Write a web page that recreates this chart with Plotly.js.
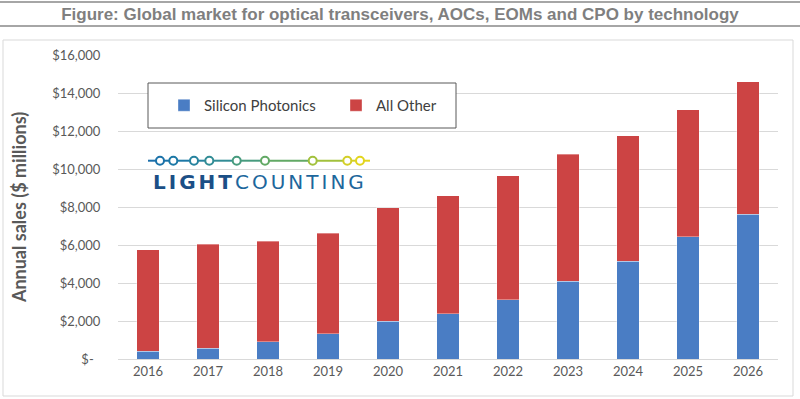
<!DOCTYPE html>
<html>
<head>
<meta charset="utf-8">
<script src="https://cdn.plot.ly/plotly-3.0.1.min.js"></script>
<style>html,body{margin:0;padding:0;background:#fff}#chart{width:800px;height:399px}</style>
</head>
<body>
<div id="chart"></div>
<script>
// ---- data ----
const years = ['2016','2017','2018','2019','2020','2021','2022','2023','2024','2025','2026'];
const siliconPhotonics = [410, 570, 920, 1330, 1980, 2390, 3120, 4090, 5140, 6430, 7610];
const totalSales = [5760, 6040, 6200, 6610, 7950, 8590, 9650, 10780, 11760, 13110, 14580];
const allOther = totalSales.map((t, i) => t - siliconPhotonics[i]);
const yTickVals = [0, 2000, 4000, 6000, 8000, 10000, 12000, 14000, 16000];
const yTickText = ['$-\u00a0\u00a0', '$2,000', '$4,000', '$6,000', '$8,000', '$10,000', '$12,000', '$14,000', '$16,000'];

// ---- layout helpers (pixel -> paper) ----
const W = 800, H = 399, L = 118, R = 22, T = 55, B = 40;
const pw = W - L - R, ph = H - T - B;
const px = x => (x - L) / pw;
const py = y => (H - B - y) / ph;

const shapes = [
  {type:'line', xref:'paper', yref:'paper', x0:px(0), x1:px(800), y0:py(2), y1:py(2), line:{color:'#a6a6a6', width:2}},
  {type:'line', xref:'paper', yref:'paper', x0:px(0), x1:px(800), y0:py(26), y1:py(26), line:{color:'#a6a6a6', width:2}},
  {type:'rect', xref:'paper', yref:'paper', x0:px(3), x1:px(793), y0:py(40), y1:py(396), line:{color:'#d9d9d9', width:1}, layer:'below'},
  {type:'rect', xref:'paper', yref:'paper', x0:px(148), x1:px(456), y0:py(83), y1:py(128), line:{color:'#595959', width:1}, fillcolor:'#ffffff', layer:'above'}
];

// logo: line with circles
const logoY = 160.7;
const nodes = [160, 173.3, 194, 209.3, 236.7, 265, 312.7, 347.3, 360];
const nodeColors = ['#1b72a9', '#1c78a6', '#27839f', '#318c95', '#479b7e', '#62a965', '#a2c13c', '#d3cf27', '#e2d51d'];
const segStops = [148].concat(nodes).concat([370]);
const segColors = ['#1b6fab'].concat(nodeColors);
for (let i = 0; i < segStops.length - 1; i++) {
  shapes.push({type:'line', xref:'paper', yref:'paper', x0:px(segStops[i]), x1:px(segStops[i+1]), y0:py(logoY), y1:py(logoY), line:{color:segColors[i], width:2}, layer:'above'});
}
nodes.forEach((n, i) => {
  shapes.push({type:'circle', xref:'paper', yref:'paper', x0:px(n-4), x1:px(n+4), y0:py(logoY-4), y1:py(logoY+4), line:{color:nodeColors[i], width:2}, fillcolor:'#ffffff', layer:'above'});
});

const annotations = [
  {xref:'paper', yref:'paper', x:px(151), y:py(182), xanchor:'left', yanchor:'middle', showarrow:false,
   text:"<span style='letter-spacing:3px'><b><span style='color:#1b4f86'>LIGHT</span></b><span style='color:#1d679c'>COUNTING</span></span>",
   font:{family:'DejaVu Sans', size:20}}
];

const traces = [
  {type:'bar', name:'Silicon Photonics', x:years, y:siliconPhotonics, marker:{color:'#4a7dc4', line:{color:'rgba(255,255,255,0.35)', width:1}}},
  {type:'bar', name:'All Other', x:years, y:allOther, marker:{color:'#cc4444', line:{color:'rgba(255,255,255,0.35)', width:1}}}
];

const layout = {
  width: W, height: H,
  margin: {l:L, r:R, t:T, b:B, pad:0},
  paper_bgcolor:'#ffffff', plot_bgcolor:'#ffffff',
  barmode:'stack', bargap:0.617,
  title:{text:'Figure: Global market for optical transceivers, AOCs, EOMs and CPO by technology',
         x:0.5, xanchor:'center', xref:'container', y:1 - 14/H, yanchor:'middle', yref:'container',
         font:{family:'Liberation Sans, Arial', size:17, weight:'bold', color:'#7f7f7f'}},
  font:{family:'Lato', color:'#595959'},
  xaxis:{type:'category', showline:true, linecolor:'#d9d9d9', linewidth:1, ticks:'', showgrid:false,
         tickfont:{family:'Lato', size:13, color:'#595959'}},
  yaxis:{range:[0,16000], tickvals:yTickVals, ticktext:yTickText, showgrid:true, gridcolor:'#d9d9d9', gridwidth:1,
         zeroline:false, showline:false, ticks:'outside', ticklen:14, tickcolor:'rgba(0,0,0,0)',
         tickfont:{family:'Lato', size:13, color:'#595959'},
         title:{text:'Annual sales ($ millions)', standoff:20, font:{family:'Lato', size:18, weight:'bold', color:'#595959'}}},
  showlegend:true,
  legend:{orientation:'h', x:px(164), xanchor:'left', y:py(105.5), yanchor:'middle', bgcolor:'rgba(0,0,0,0)',
          font:{family:'Lato', size:15, color:'#404040'}, traceorder:'normal', itemwidth:30, entrywidth:127},
  shapes: shapes,
  annotations: annotations
};

Plotly.newPlot('chart', traces, layout, {displayModeBar:false, staticPlot:true});
</script>
</body>
</html>
